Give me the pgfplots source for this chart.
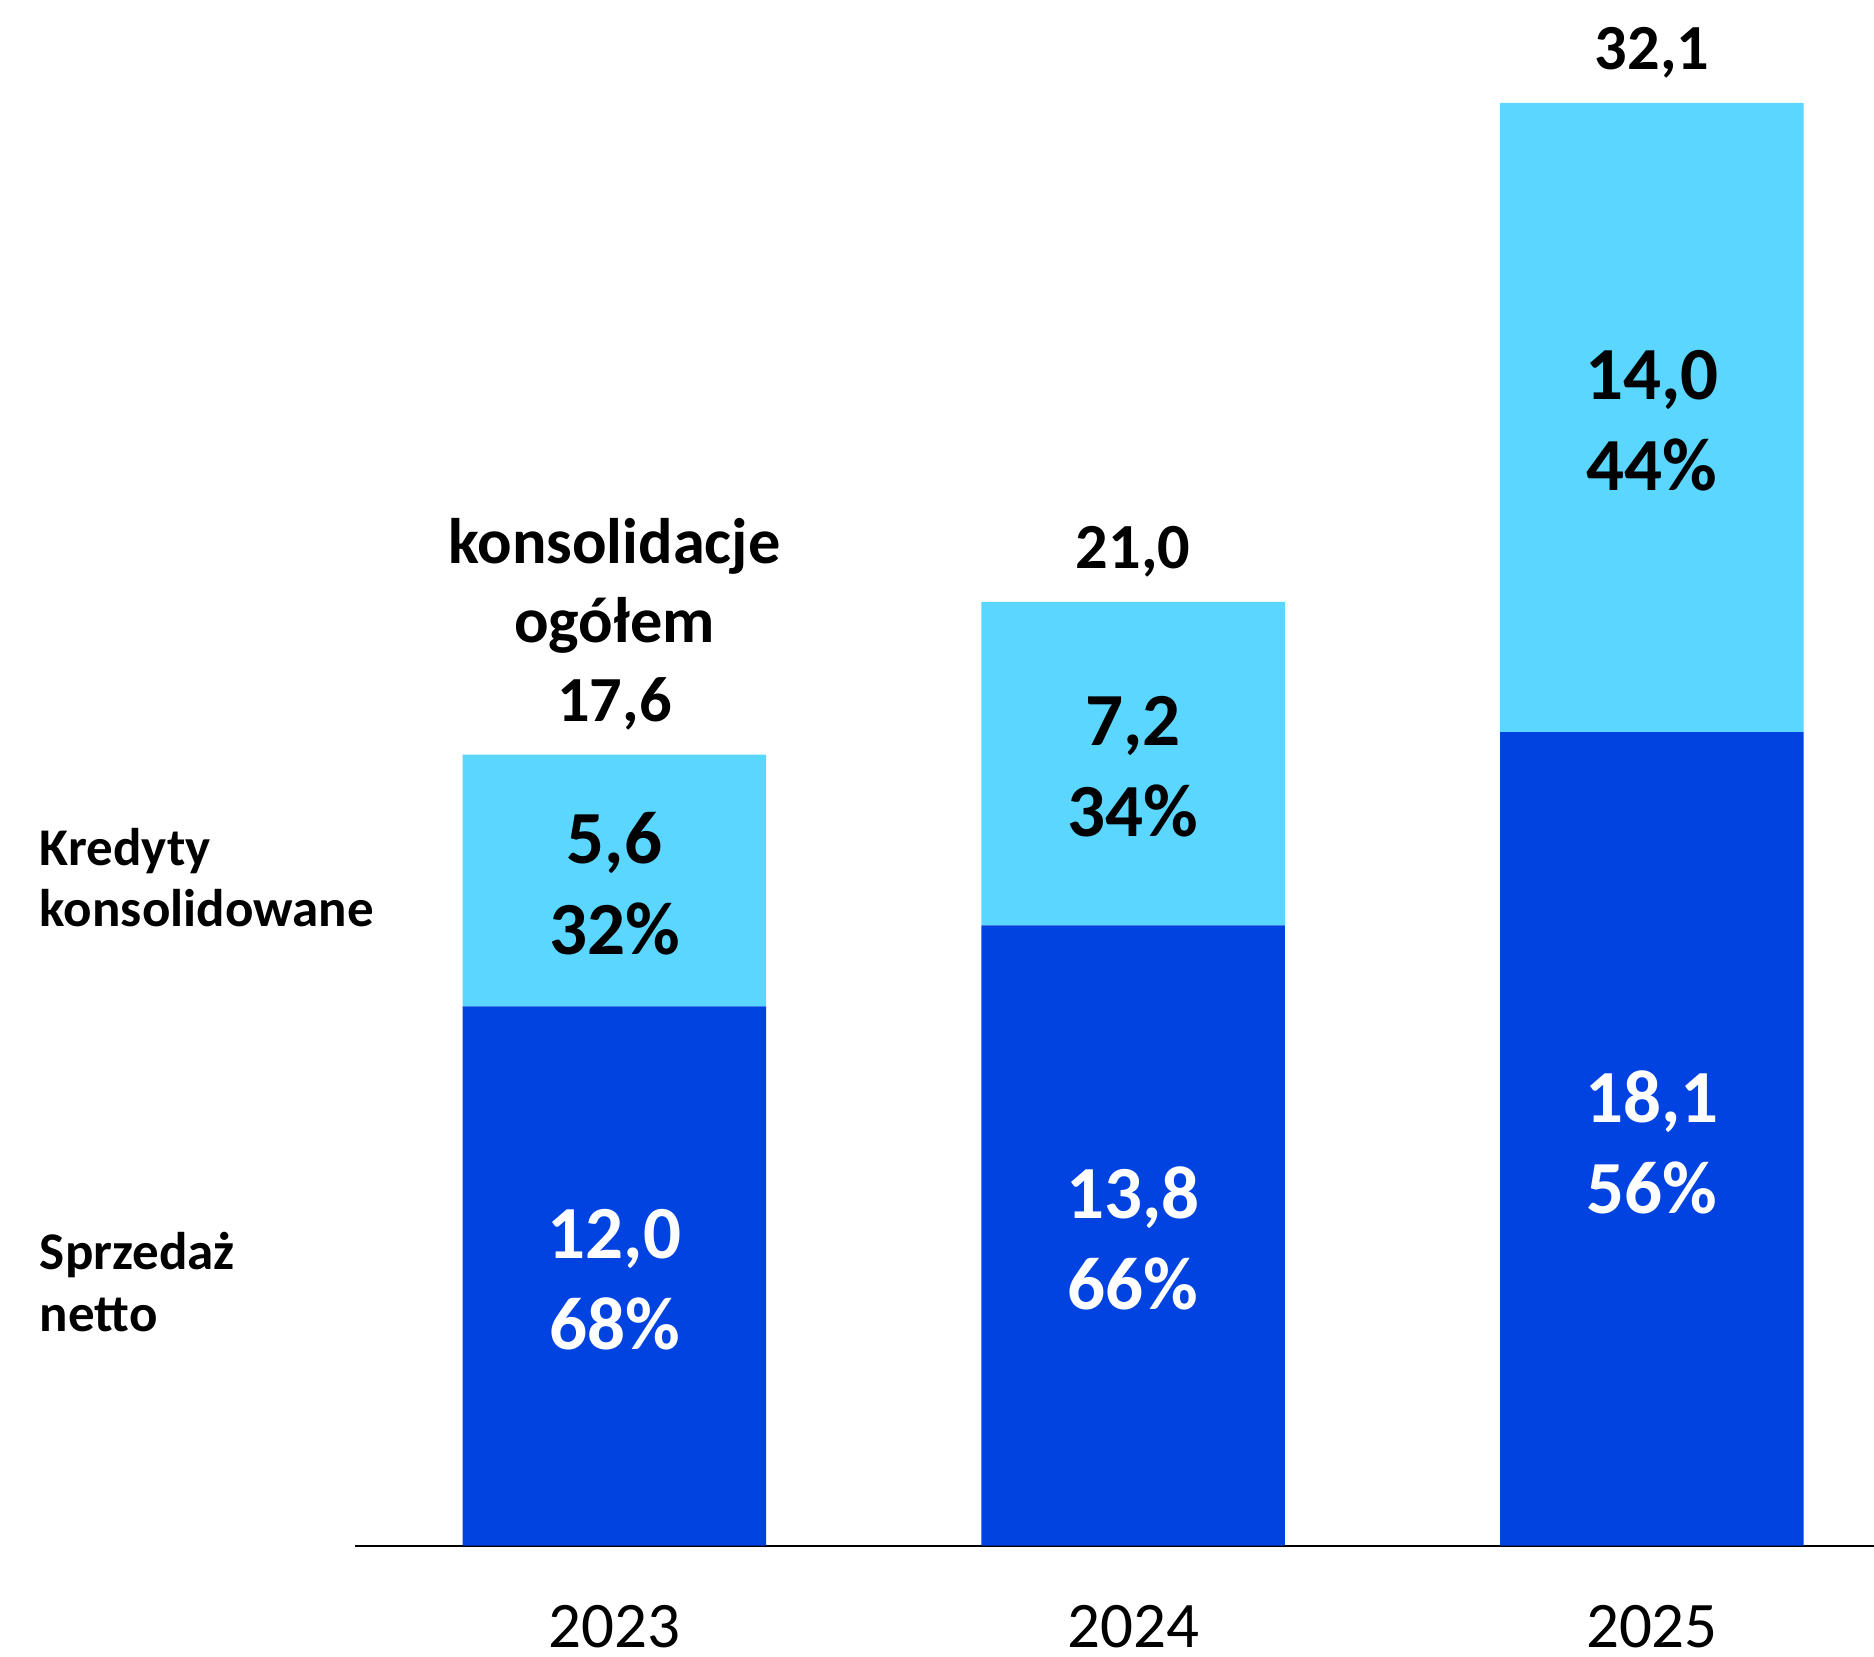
\documentclass[border=0pt]{standalone}
\usepackage{pgfplots}
\pgfplotsset{compat=1.18}
\usepackage{fontspec}
\setmainfont{Carlito}
\definecolor{ciemny}{RGB}{0,67,225}
\definecolor{jasny}{RGB}{90,214,255}
\tikzset{
  wewn/.style={font=\bfseries\fontsize{22.5}{27.3}\selectfont, align=center, inner sep=0pt, yshift=-1pt},
  suma/.style={font=\bfseries\fontsize{19.3}{23.7}\selectfont, align=center, anchor=south, inner sep=0pt, text depth=0pt, yshift=9.8pt},
}
\begin{document}
\begin{tikzpicture}
\begin{axis}[
  at={(0,0)}, anchor=south west,
  scale only axis, width=455.7pt, height=463.7pt,
  ybar stacked, bar width=0.585,
  xmin=-0.5, xmax=2.428, ymin=0, ymax=34.39,
  axis y line=none, axis x line*=bottom,
  x axis line style={line width=0.6pt, black},
  xtick=data, xticklabels={2023,2024,2025}, major tick length=0pt,
  xticklabel style={anchor=base, inner sep=0pt, yshift=-30.5pt, font=\fontsize{19.5}{23.7}\selectfont},
  clip=false,
]
\addplot[fill=ciemny, draw=none] coordinates {(0,12.0) (1,13.8) (2,18.1)};
\addplot[fill=jasny, draw=none] coordinates {(0,5.6) (1,7.2) (2,14.0)};

% środki segmentów i wierzchołki słupków
\coordinate (d0) at (axis cs:0,6.0);
\coordinate (d1) at (axis cs:1,6.9);
\coordinate (d2) at (axis cs:2,9.05);
\coordinate (l0) at (axis cs:0,14.8);
\coordinate (l1) at (axis cs:1,17.4);
\coordinate (l2) at (axis cs:2,25.1);
\coordinate (t0) at (axis cs:0,17.6);
\coordinate (t1) at (axis cs:1,21.0);
\coordinate (t2) at (axis cs:2,32.1);
\end{axis}

\node[wewn, white] at (d0) {12,0\\68\%};
\node[wewn, white] at (d1) {13,8\\66\%};
\node[wewn, white] at (d2) {18,1\\56\%};
\node[wewn] at (l0) {5,6\\32\%};
\node[wewn] at (l1) {7,2\\34\%};
\node[wewn] at (l2) {14,0\\44\%};

\node[suma] at (t0) {konsolidacje\\ogółem\\17,6};
\node[suma] at (t1) {21,0};
\node[suma] at (t2) {32,1};

\begin{scope}[every node/.style={anchor=base west, inner sep=0pt, font=\bfseries\fontsize{15.9}{18.6}\selectfont}]
\node at (-94.7pt,203.9pt) {Kredyty};
\node at (-94.7pt,185.6pt) {konsolidowane};
\node at (-94.7pt,82.7pt) {Sprzedaż};
\node at (-94.7pt,64.2pt) {netto};
\end{scope}
\pgfresetboundingbox
\useasboundingbox (-106.5pt,-33.4pt) rectangle (455.7pt,463.7pt);
\end{tikzpicture}
\end{document}
